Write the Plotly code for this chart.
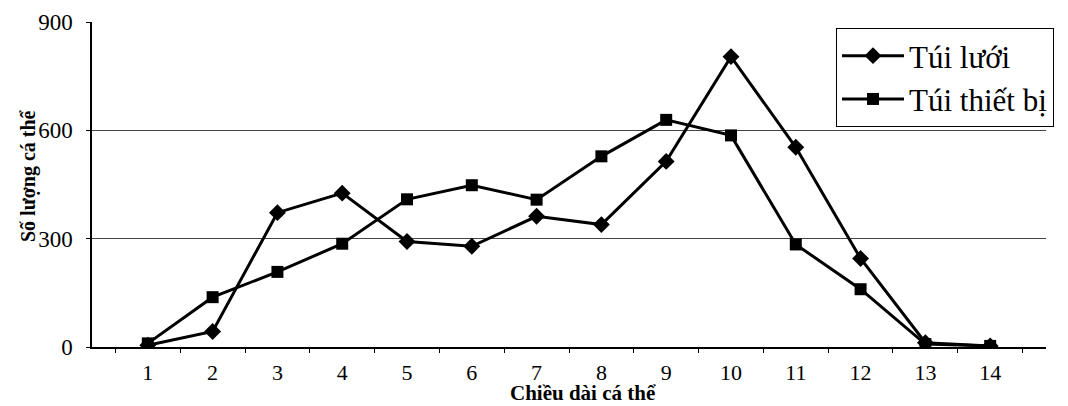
import plotly.graph_objects as go

categories = ["1", "2", "3", "4", "5", "6", "7", "8", "9", "10", "11", "12", "13", "14"]
tui_luoi = [5, 43, 372, 426, 292, 279, 362, 339, 514, 804, 553, 245, 12, 3]
tui_thiet_bi = [10, 138, 208, 286, 409, 448, 408, 528, 629, 586, 284, 160, 8, 3]
y_ticks = [0, 300, 600, 900]

SERIF = "Liberation Serif"

fig = go.Figure()
fig.add_trace(go.Scatter(
    x=categories, y=tui_luoi, name="Túi lưới", mode="lines+markers",
    line=dict(color="black", width=3),
    marker=dict(symbol="diamond", size=13, color="black"),
    legendgroup="a",
))
fig.add_trace(go.Scatter(
    x=categories, y=tui_thiet_bi, name="Túi thiết bị", mode="lines+markers",
    line=dict(color="black", width=3),
    marker=dict(symbol="square", size=12, color="black"),
    legendgroup="b",
))

# page has 8px body margin; plot area target: x 92..1046, y 22..347
W, H = 1060, 398
L, T, R, B = 84, 14, 22, 59
PW, PH = W - L - R, H - T - B

def px_to_paper(px, py):
    return ((px - 8 - L) / PW, 1 - (py - 8 - T) / PH)

xt = px_to_paper(583, 393)
yt = px_to_paper(28, 176)
lg = px_to_paper(836, 28)

fig.update_layout(
    width=W, height=H,
    margin=dict(l=L, r=R, t=T, b=B, autoexpand=False),
    paper_bgcolor="white", plot_bgcolor="white",
    font=dict(family=SERIF, color="black", size=20),
    showlegend=True,
    legend=dict(
        x=lg[0], y=lg[1], xanchor="left", yanchor="top",
        font=dict(family=SERIF, size=31, color="black"),
        bordercolor="black", borderwidth=1, bgcolor="white",
        tracegroupgap=0, traceorder="grouped", itemwidth=62,
    ),
    xaxis=dict(
        type="category", tickson="boundaries", ticks="outside", ticklen=4,
        tickcolor="black", showline=True, linecolor="black", linewidth=1.5,
        showgrid=False, tickfont=dict(family=SERIF, size=22), ticklabelstandoff=5,
        automargin=False,
    ),
    yaxis=dict(
        range=[0, 900], tickvals=y_ticks, ticks="outside", ticklen=4,
        tickcolor="black", showline=True, linecolor="black", linewidth=1.5,
        showgrid=True, gridcolor="#444444", gridwidth=1,
        tickfont=dict(family=SERIF, size=23), zeroline=False, ticklabelstandoff=9,
        automargin=False,
    ),
    annotations=[
        dict(text="<b>Chiều dài cá thể</b>", x=xt[0], y=xt[1], xref="paper", yref="paper",
             showarrow=False, font=dict(size=21, family=SERIF),
             xanchor="center", yanchor="middle"),
        dict(text="<b>Số lượng cá thể</b>", x=yt[0], y=yt[1], xref="paper", yref="paper",
             showarrow=False, textangle=-90, font=dict(size=20, family=SERIF),
             xanchor="center", yanchor="middle"),
    ],
)

fig.write_html("out.html")
